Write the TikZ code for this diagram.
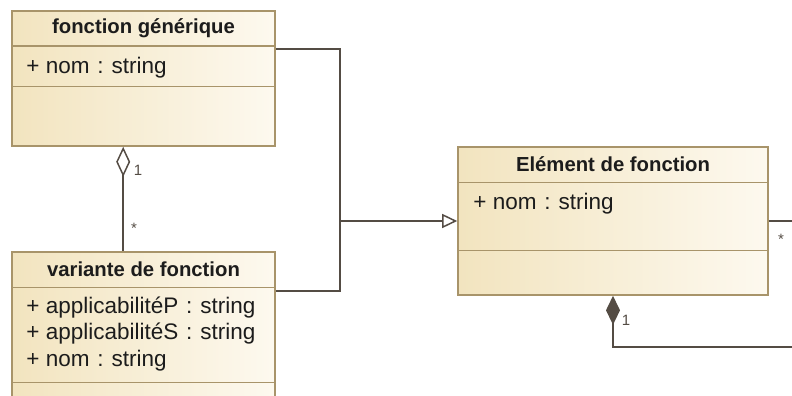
\documentclass[tikz,border=0pt]{standalone}
\usepackage{fontspec}
\setmainfont{Liberation Sans}
\usepackage{tikz}
\usetikzlibrary{arrows.meta,calc,positioning}
\definecolor{classbeige}{HTML}{F2E4BF}
\definecolor{classcream}{HTML}{FDF9EF}
\definecolor{classedge}{HTML}{A8946A}
\definecolor{linkgrey}{HTML}{544C44}
\definecolor{textdark}{HTML}{1C1C1C}
\newcommand{\typesep}{\hspace{0.35em}:\hspace{0.35em}}

\begin{document}
\begin{tikzpicture}[x=1pt, y=-1pt,
    classbox/.style={draw=classedge, line width=1.6pt, left color=classbeige, right color=classcream, inner sep=0pt},
    compart/.style={draw=classedge, line width=1.4pt},
    classtitle/.style={font=\fontsize{20.3}{23}\selectfont\bfseries, text=textdark, inner sep=0pt},
    attr/.style={font=\fontsize{22.5}{25}\selectfont, text=textdark, inner sep=0pt, text height=15pt, text depth=4.5pt},
    link/.style={draw=linkgrey, line width=1.5pt},
    mult/.style={font=\fontsize{15}{17}\selectfont, text=linkgrey, inner sep=0pt}
]
\useasboundingbox (0,0) rectangle (792,396);
\clip (0,0) rectangle (792,396);

% fonction generique
\node[classbox, minimum width=263pt, minimum height=135pt] (gen) at (143.5,78.5) {};
\draw[compart] ($(gen.north west)+(0,36)$) -- ($(gen.north east)+(0,36)$);
\draw[compart] ($(gen.north west)+(0,76)$) -- ($(gen.north east)+(0,76)$);
\node[classtitle] (gentitle) at ($(gen.north)+(0,18)$) {fonction générique};
\node[attr, anchor=west] (gennom) at ($(gen.north west)+(15,58)$) {+ nom\typesep string};

% variante de fonction
\node[classbox, minimum width=263pt, minimum height=178pt] (var) at (143.5,341) {};
\draw[compart] ($(var.north west)+(0,36)$) -- ($(var.north east)+(0,36)$);
\draw[compart] ($(var.north west)+(0,131)$) -- ($(var.north east)+(0,131)$);
\node[classtitle] (vartitle) at ($(var.north)+(0,18)$) {variante de fonction};
\node[attr, anchor=west] (varappp) at ($(var.north west)+(15,57)$) {+ applicabilitéP\typesep string};
\node[attr, below=6.5pt of varappp.south west, anchor=north west] (varapps) {+ applicabilitéS\typesep string};
\node[attr, below=6.5pt of varapps.south west, anchor=north west] (varnom) {+ nom\typesep string};

% Element de fonction
\node[classbox, minimum width=310pt, minimum height=148pt] (elem) at (613,221) {};
\draw[compart] ($(elem.north west)+(0,36)$) -- ($(elem.north east)+(0,36)$);
\draw[compart] ($(elem.north west)+(0,104)$) -- ($(elem.north east)+(0,104)$);
\node[classtitle] (elemtitle) at ($(elem.north)+(0,18)$) {Elément de fonction};
\node[attr, anchor=west] (elemnom) at ($(elem.north west)+(16,58)$) {+ nom\typesep string};

% generalisation
\coordinate (junc) at ($(elem.west)+(-117,0)$);
\draw[link] ($(gen.north east)+(0,39)$) -| (junc);
\draw[link] ($(var.north east)+(0,40)$) -| (junc);
\draw[link, -{Triangle[open, length=15pt, width=14pt, line width=1.5pt]}] (junc) -- (elem.west);

% agregation
\draw[link, {Diamond[open, length=30pt, width=14pt, line width=1.5pt]}-] ($(gen.south west)+(112,0)$) -- ($(var.north west)+(112,0)$);
\node[mult] (aggone) at (138,170) {1};
\node[mult] (aggmany) at (134,228) {*};

% composition
\coordinate (compend) at (800,347);
\draw[link, {Diamond[length=29pt, width=14pt]}-] (elem.south) |- (compend);
\node[mult] (compone) at (626,320) {1};

% association
\coordinate (assocend) at (800,221);
\draw[link] (elem.east) -- (assocend);
\node[mult] (assocmany) at (781,239) {*};
\end{tikzpicture}
\end{document}
